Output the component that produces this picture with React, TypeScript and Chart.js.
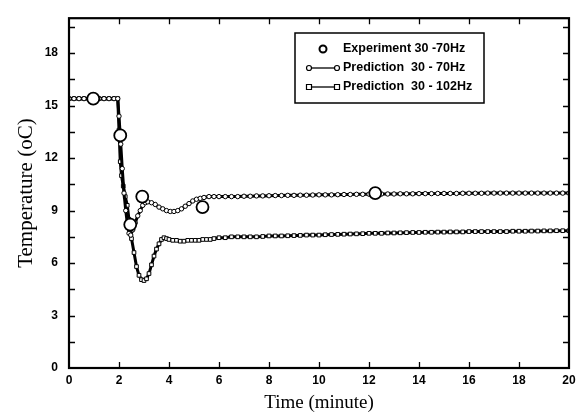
import { useEffect, useRef } from "react";
import { Chart, registerables } from "chart.js";
Chart.register(...registerables);

// Experiment 30-70Hz
const expTime = [0.97, 2.05, 2.45, 2.93, 5.34, 12.25];
const expTemp = [15.4, 13.3, 8.2, 9.8, 9.2, 10.0];

// Prediction 30-70Hz
const pred70Time = [
  0, 0.2, 0.4, 0.6, 0.8, 1.0, 1.2, 1.4, 1.6, 1.8, 1.95,
  2.0, 2.07, 2.13, 2.2, 2.27, 2.33, 2.4, 2.47, 2.55, 2.65, 2.75, 2.85, 2.95, 3.05, 3.15,
  3.3, 3.45, 3.6, 3.75, 3.9, 4.05, 4.2, 4.35, 4.5, 4.65, 4.8, 4.95, 5.1, 5.25, 5.4, 5.6, 5.8, 6.0,
  6.25, 6.5, 6.75, 7, 7.25, 7.5, 7.75, 8, 8.25, 8.5, 8.75, 9, 9.25, 9.5, 9.75, 10,
  10.25, 10.5, 10.75, 11, 11.25, 11.5, 11.75, 12, 12.25, 12.5, 12.75, 13, 13.25, 13.5, 13.75, 14,
  14.25, 14.5, 14.75, 15, 15.25, 15.5, 15.75, 16, 16.25, 16.5, 16.75, 17, 17.25, 17.5, 17.75, 18,
  18.25, 18.5, 18.75, 19, 19.25, 19.5, 19.75, 20,
];
const pred70Temp = [
  15.4, 15.4, 15.4, 15.4, 15.4, 15.4, 15.4, 15.4, 15.4, 15.4, 15.4,
  14.4, 12.8, 11.4, 10.0, 9.0, 8.3, 7.7, 7.6, 7.9, 8.3, 8.7, 9.0, 9.3, 9.45, 9.5,
  9.45, 9.35, 9.2, 9.1, 9.0, 8.95, 8.95, 9.0, 9.1, 9.25, 9.4, 9.55, 9.65, 9.7, 9.75, 9.8, 9.8, 9.8,
  9.8, 9.8, 9.8, 9.82, 9.82, 9.84, 9.84, 9.85, 9.86, 9.86, 9.87, 9.87, 9.88, 9.88, 9.89, 9.9,
  9.9, 9.9, 9.91, 9.92, 9.92, 9.93, 9.93, 9.94, 9.94, 9.95, 9.95, 9.95, 9.96, 9.96, 9.96, 9.97,
  9.97, 9.97, 9.98, 9.98, 9.98, 9.98, 9.99, 9.99, 9.99, 9.99, 10, 10, 10, 10, 10, 10,
  10, 10, 10, 10, 10, 10, 10, 10,
];

// Prediction 30-102Hz
const pred102Time = [
  0, 0.2, 0.4, 0.6, 0.8, 1.0, 1.2, 1.4, 1.6, 1.8, 1.95,
  2.0, 2.05, 2.1, 2.17, 2.25, 2.33, 2.4, 2.5, 2.6, 2.7, 2.8, 2.9, 3.0, 3.1, 3.2, 3.3, 3.4, 3.5,
  3.6, 3.7, 3.8, 3.9, 4.0,
  4.15, 4.3, 4.45, 4.6, 4.75, 4.9, 5.05, 5.2, 5.35, 5.5, 5.65, 5.8, 6.0,
  6.25, 6.5, 6.75, 7, 7.25, 7.5, 7.75, 8, 8.25, 8.5, 8.75, 9, 9.25, 9.5, 9.75, 10,
  10.25, 10.5, 10.75, 11, 11.25, 11.5, 11.75, 12, 12.25, 12.5, 12.75, 13, 13.25, 13.5, 13.75, 14,
  14.25, 14.5, 14.75, 15, 15.25, 15.5, 15.75, 16, 16.25, 16.5, 16.75, 17, 17.25, 17.5, 17.75, 18,
  18.25, 18.5, 18.75, 19, 19.25, 19.5, 19.75, 20,
];
const pred102Temp = [
  15.4, 15.4, 15.4, 15.4, 15.4, 15.4, 15.4, 15.4, 15.4, 15.4, 15.4,
  13.6, 11.8, 11.0, 10.4, 9.8, 9.3, 8.5, 7.4, 6.6, 5.8, 5.3, 5.05, 5.0, 5.1, 5.4, 5.9, 6.4, 6.8,
  7.1, 7.35, 7.45, 7.4, 7.35,
  7.3, 7.3, 7.25, 7.25, 7.3, 7.3, 7.3, 7.3, 7.35, 7.35, 7.35, 7.4, 7.45,
  7.45, 7.5, 7.5, 7.5, 7.5, 7.5, 7.52, 7.55, 7.55, 7.55, 7.56, 7.57, 7.58, 7.6, 7.6, 7.6,
  7.62, 7.63, 7.64, 7.65, 7.66, 7.67, 7.68, 7.7, 7.7, 7.7, 7.72, 7.72, 7.73, 7.74, 7.75, 7.75,
  7.76, 7.76, 7.77, 7.77, 7.78, 7.78, 7.78, 7.8, 7.8, 7.8, 7.8, 7.8, 7.8, 7.8, 7.82, 7.82,
  7.82, 7.83, 7.83, 7.84, 7.84, 7.85, 7.85, 7.85,
];

const xTickValues = [0, 2, 4, 6, 8, 10, 12, 14, 16, 18, 20];
const yTickValues = [0, 3, 6, 9, 12, 15, 18];
const yMarkValues = [1.5, 3, 4.5, 6, 7.5, 9, 10.5, 12, 13.5, 15, 16.5, 18, 19.5];
const xMarkValues = [2, 4, 6, 8, 10, 12, 14, 16, 18];

const legendLabels = ["Experiment 30 -70Hz", "Prediction  30 - 70Hz", "Prediction  30 - 102Hz"];

const toPoints = (xs: number[], ys: number[]) => xs.map((x, i) => ({ x, y: ys[i] }));

const framePlugin = {
  id: "frame",
  afterDraw(chart: any) {
    const { ctx, chartArea } = chart;
    const { left, right, top, bottom } = chartArea;
    const xs = chart.scales.x;
    const ys = chart.scales.y;
    ctx.save();
    ctx.strokeStyle = "#000";
    ctx.lineWidth = 2.2;
    ctx.strokeRect(left, top, right - left, bottom - top);
    ctx.lineWidth = 1.3;
    ctx.beginPath();
    for (const v of yMarkValues) {
      const py = Math.round(ys.getPixelForValue(v)) + 0.5;
      ctx.moveTo(left, py);
      ctx.lineTo(left + 6, py);
      ctx.moveTo(right, py);
      ctx.lineTo(right - 6, py);
    }
    for (const v of xMarkValues) {
      const px = Math.round(xs.getPixelForValue(v)) + 0.5;
      ctx.moveTo(px, bottom);
      ctx.lineTo(px, bottom - 6);
      ctx.moveTo(px, top);
      ctx.lineTo(px, top + 6);
    }
    ctx.stroke();

    // legend
    const lx = 295, ly = 33, lw = 189, lh = 70;
    ctx.fillStyle = "#fff";
    ctx.fillRect(lx, ly, lw, lh);
    ctx.lineWidth = 1.5;
    ctx.strokeRect(lx, ly, lw, lh);
    const rows = [49, 68, 87];
    ctx.fillStyle = "#000";
    ctx.font = "bold 12.5px 'Liberation Sans', Arial, sans-serif";
    ctx.textBaseline = "middle";
    ctx.textAlign = "left";
    rows.forEach((ry, i) => {
      if (i === 0) {
        ctx.beginPath();
        ctx.arc(323, ry, 3.5, 0, Math.PI * 2);
        ctx.fillStyle = "#fff";
        ctx.fill();
        ctx.lineWidth = 2;
        ctx.stroke();
      } else {
        ctx.beginPath();
        ctx.moveTo(309, ry);
        ctx.lineTo(337, ry);
        ctx.lineWidth = 1.3;
        ctx.stroke();
        for (const mx of [309, 337]) {
          ctx.beginPath();
          if (i === 1) ctx.arc(mx, ry, 2.5, 0, Math.PI * 2);
          else ctx.rect(mx - 2.5, ry - 2.5, 5, 5);
          ctx.fillStyle = "#fff";
          ctx.fill();
          ctx.lineWidth = 1.2;
          ctx.stroke();
        }
      }
      ctx.fillStyle = "#000";
      ctx.fillText(legendLabels[i], 343, ry);
    });
    ctx.restore();
  },
};

export default function App() {
  const ref = useRef<HTMLCanvasElement | null>(null);
  useEffect(() => {
    if (!ref.current) return;
    const tickFont = { family: "'Liberation Sans', Arial, sans-serif", size: 12, weight: "bold" as const };
    const chart = new Chart(ref.current, {
      type: "line",
      data: {
        datasets: [
          {
            label: legendLabels[0],
            data: toPoints(expTime, expTemp),
            showLine: false,
            pointStyle: "circle",
            pointRadius: 6,
            pointBorderWidth: 1.8,
            pointBackgroundColor: "#fff",
            pointBorderColor: "#000",
            borderColor: "#000",
          },
          {
            label: legendLabels[1],
            data: toPoints(pred70Time, pred70Temp),
            borderColor: "#000",
            borderWidth: 3,
            pointStyle: "circle",
            pointRadius: 2.2,
            pointBorderWidth: 1,
            pointBackgroundColor: "#fff",
            pointBorderColor: "#000",
            tension: 0,
          },
          {
            label: legendLabels[2],
            data: toPoints(pred102Time, pred102Temp),
            borderColor: "#000",
            borderWidth: 3,
            pointStyle: "rect",
            pointRadius: 2.6,
            pointBorderWidth: 1,
            pointBackgroundColor: "#fff",
            pointBorderColor: "#000",
            tension: 0,
          },
        ],
      },
      options: {
        animation: false,
        responsive: true,
        maintainAspectRatio: false,
        layout: { padding: { left: 0, top: 12, right: 16, bottom: 0 } },
        plugins: { legend: { display: false }, tooltip: { enabled: false } },
        scales: {
          x: {
            type: "linear",
            min: 0,
            max: 20,
            grid: { display: false, drawTicks: false },
            border: { display: false },
            afterBuildTicks: (s: any) => {
              s.ticks = xTickValues.map((v) => ({ value: v }));
            },
            afterFit: (s: any) => {
              s.height = 47;
            },
            ticks: { color: "#000", font: tickFont, padding: 5, maxRotation: 0 },
            title: {
              display: true,
              text: "Time (minute)",
              color: "#000",
              font: { family: "'Liberation Serif', 'Times New Roman', serif", size: 19 },
              padding: { top: 0, bottom: 1 },
            },
          },
          y: {
            type: "linear",
            min: 0,
            max: 20,
            grid: { display: false, drawTicks: false },
            border: { display: false },
            afterBuildTicks: (s: any) => {
              s.ticks = yTickValues.map((v) => ({ value: v }));
            },
            afterFit: (s: any) => {
              s.width = 69;
            },
            ticks: { color: "#000", font: tickFont, padding: 11 },
            title: {
              display: true,
              text: "Temperature (oC)",
              color: "#000",
              font: { family: "'Liberation Serif', 'Times New Roman', serif", size: 21 },
              padding: { top: 14, bottom: 0 },
            },
          },
        },
      },
      plugins: [framePlugin],
    });
    return () => chart.destroy();
  }, []);
  return (
    <div style={{ position: "fixed", left: 0, top: 0, width: 585, height: 415, background: "#fff" }}>
      <canvas ref={ref} />
    </div>
  );
}
